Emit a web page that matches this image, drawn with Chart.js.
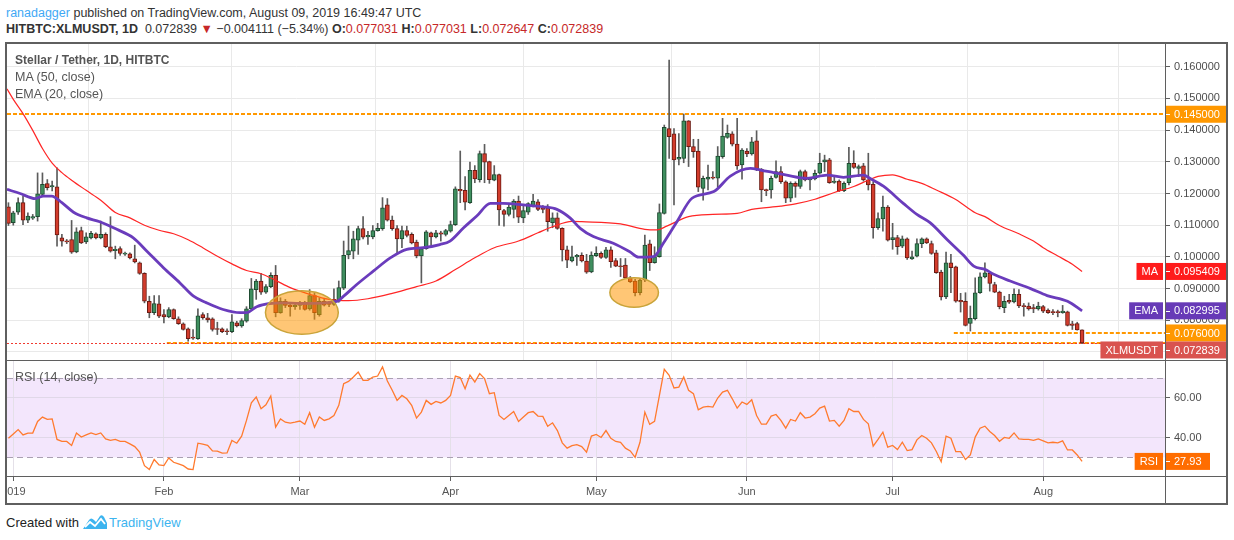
<!DOCTYPE html>
<html><head><meta charset="utf-8">
<script src="https://cdn.jsdelivr.net/npm/chart.js@4.4.1/dist/chart.umd.min.js"></script>
<style>
html,body{margin:0;padding:0;background:#fff;width:1234px;height:540px;overflow:hidden;
  font-family:'Liberation Sans',Arial,sans-serif;}
.hdr{position:absolute;left:6px;white-space:nowrap;font-size:12.5px;line-height:16px;color:#333;}
#h1{top:5px;} #h2{top:21px;}
.red{color:#c62828;}
#frame{position:absolute;left:5px;top:42px;width:1219px;height:459px;border:2px solid #5f5f5f;}
#p1{position:absolute;left:0;top:0;width:1219px;height:316px;}
#p2{position:absolute;left:0;top:316px;width:1219px;height:143px;}
.leg{position:absolute;left:15px;font-size:12.5px;line-height:16px;color:#555;white-space:nowrap;}
#footer{position:absolute;left:6px;top:514px;font-size:13px;line-height:18px;color:#222;white-space:nowrap;}
#footer svg{vertical-align:-3px;margin:0 1px 0 3px;}
</style></head>
<body>
<div class="hdr" id="h1"><span style="color:#3fa9f5">ranadagger</span> published on TradingView.com, August 09, 2019 16:49:47 UTC</div>
<div class="hdr" id="h2"><b>HITBTC:XLMUSDT, 1D</b>&nbsp; 0.072839 <span class="red">▼</span> −0.004111 (−5.34%) <b>O:</b><span class="red">0.077031</span> <b>H:</b><span class="red">0.077031</span> <b>L:</b><span class="red">0.072647</span> <b>C:</b><span class="red">0.072839</span></div>
<div id="frame">
  <div id="p1"><canvas id="c1"></canvas></div>
  <div id="p2"><canvas id="c2"></canvas></div>
</div>
<div class="leg" style="top:52px;font-weight:bold;font-size:12px;">Stellar / Tether, 1D, HITBTC</div>
<div class="leg" style="top:69px;">MA (50, close)</div>
<div class="leg" style="top:86px;">EMA (20, close)</div>
<div class="leg" style="top:369px;">RSI (14, close)</div>
<div id="footer">Created with<svg width="26" height="16" viewBox="0 0 26 16"><path d="M1 15 L7 6 Q9 3 12 6 L14 8 L18 2 Q20 0 22 3 L25 9 L25 15 Z" fill="#3cb4ef"/><path d="M3 13 L8 8 L13 12 L19 5 L23 10" stroke="#fff" stroke-width="1.8" fill="none"/></svg><span style="color:#3cb4ef">TradingView</span></div>

<script>
// ---------------- DATA ----------------
const firstDay = -1; // Dec 31, 2018 (day 0 = Jan 1, 2019)
const open = [
0.1158,0.1108,0.1141,0.1171,0.1116,0.1122,0.1127,0.1197,0.1231,0.1221,
0.1221,0.1060,0.1051,0.1055,0.1016,0.1083,0.1047,0.1060,0.1073,0.1060,
0.1071,0.1032,0.1020,0.1026,0.1009,0.1010,0.0994,0.0981,0.0948,0.0860,
0.0824,0.0852,0.0818,0.0811,0.0834,0.0805,0.0789,0.0773,0.0746,0.0742,
0.0818,0.0808,0.0805,0.0773,0.0773,0.0766,0.0764,0.0792,0.0782,0.0797,
0.0836,0.0897,0.0924,0.0889,0.0906,0.0942,0.0824,0.0860,0.0847,0.0843,
0.0847,0.0853,0.0836,0.0878,0.0818,0.0860,0.0853,0.0850,0.0860,0.0901,
0.1006,0.1018,0.1053,0.1089,0.1063,0.1063,0.1083,0.1089,0.1164,0.1116,
0.1089,0.1057,0.1083,0.1071,0.1047,0.1003,0.1026,0.1076,0.1063,0.1076,
0.1071,0.1081,0.1102,0.1213,0.1210,0.1171,0.1273,0.1244,0.1326,0.1301,
0.1242,0.1260,0.1146,0.1134,0.1150,0.1176,0.1123,0.1141,0.1162,0.1174,
0.1153,0.1155,0.1108,0.1123,0.1090,0.1022,0.0987,0.1000,0.1005,0.0987,
0.0953,0.1004,0.1011,0.0998,0.1022,0.0988,0.0971,0.0974,0.0934,0.0924,
0.0887,0.0927,0.1041,0.0982,0.1001,0.1137,0.1405,0.1388,0.1308,0.1311,
0.1429,0.1348,0.1334,0.1216,0.1245,0.1252,0.1248,0.1316,0.1377,0.1388,
0.1356,0.1290,0.1334,0.1325,0.1366,0.1276,0.1211,0.1211,0.1251,0.1269,
0.1237,0.1185,0.1232,0.1222,0.1269,0.1243,0.1246,0.1264,0.1300,0.1306,
0.1235,0.1239,0.1209,0.1234,0.1295,0.1279,0.1287,0.1243,0.1229,0.1092,
0.1120,0.1157,0.1054,0.1061,0.1034,0.1057,0.0994,0.1002,0.1042,0.1057,
0.1042,0.1013,0.0952,0.0874,0.0981,0.0969,0.0863,0.0860,0.0790,0.0805,
0.0887,0.0937,0.0948,0.0913,0.0889,0.0840,0.0863,0.0858,0.0882,0.0845,
0.0845,0.0840,0.0836,0.0843,0.0832,0.0826,0.0826,0.0824,0.0827,0.0789,
0.0790,0.077031];
const high = [
0.1171,0.1144,0.1186,0.1192,0.1139,0.1134,0.1265,0.1265,0.1244,0.1239,
0.1281,0.1071,0.1055,0.1115,0.1092,0.1094,0.1076,0.1081,0.1076,0.1113,
0.1076,0.1127,0.1034,0.1032,0.1015,0.1013,0.1037,0.0984,0.0950,0.0876,
0.0878,0.0878,0.0834,0.0840,0.0836,0.0811,0.0792,0.0776,0.0771,0.0836,
0.0824,0.0822,0.0808,0.0794,0.0776,0.0773,0.0818,0.0797,0.0805,0.0843,
0.0932,0.0929,0.0948,0.0913,0.0950,0.0973,0.0871,0.0866,0.0853,0.0855,
0.0860,0.0860,0.0897,0.0887,0.0871,0.0866,0.0860,0.0899,0.0924,0.1050,
0.1097,0.1081,0.1097,0.1127,0.1081,0.1099,0.1106,0.1187,0.1184,0.1129,
0.1099,0.1097,0.1097,0.1076,0.1053,0.1029,0.1083,0.1078,0.1084,0.1081,
0.1087,0.1113,0.1221,0.1334,0.1253,0.1299,0.1288,0.1334,0.1355,0.1302,
0.1288,0.1261,0.1150,0.1165,0.1181,0.1192,0.1162,0.1171,0.1197,0.1181,
0.1162,0.1165,0.1139,0.1139,0.1092,0.1034,0.1034,0.1008,0.1013,0.1008,
0.1016,0.1032,0.1016,0.1030,0.1032,0.0995,0.0995,0.0995,0.0938,0.0929,
0.0932,0.1069,0.1053,0.1032,0.1167,0.1416,0.1621,0.1405,0.1389,0.1451,
0.1430,0.1371,0.1371,0.1255,0.1290,0.1269,0.1348,0.1437,0.1416,0.1395,
0.1437,0.1342,0.1342,0.1377,0.1398,0.1279,0.1214,0.1255,0.1303,0.1285,
0.1240,0.1237,0.1237,0.1274,0.1274,0.1248,0.1274,0.1327,0.1321,0.1311,
0.1255,0.1243,0.1237,0.1346,0.1335,0.1290,0.1295,0.1327,0.1237,0.1139,
0.1192,0.1162,0.1106,0.1068,0.1066,0.1060,0.1018,0.1057,0.1060,0.1060,
0.1050,0.1021,0.0958,0.1015,0.1008,0.0971,0.0885,0.0887,0.0845,0.0934,
0.0950,0.0981,0.0950,0.0920,0.0892,0.0876,0.0882,0.0899,0.0897,0.0853,
0.0855,0.0850,0.0857,0.0847,0.0836,0.0834,0.0832,0.0847,0.0829,0.0797,
0.0794,0.077031];
const low = [
0.1099,0.1100,0.1134,0.1102,0.1108,0.1118,0.1113,0.1192,0.1211,0.1208,
0.1034,0.1034,0.1042,0.1011,0.1013,0.1042,0.1042,0.1057,0.1057,0.1057,
0.1029,0.1015,0.0994,0.1005,0.1005,0.0994,0.0981,0.0945,0.0855,0.0808,
0.0818,0.0808,0.0792,0.0808,0.0803,0.0787,0.0769,0.0734,0.0740,0.0740,
0.0803,0.0794,0.0766,0.0755,0.0761,0.0755,0.0761,0.0779,0.0778,0.0794,
0.0832,0.0866,0.0882,0.0885,0.0903,0.0811,0.0822,0.0840,0.0813,0.0834,
0.0834,0.0832,0.0832,0.0803,0.0813,0.0845,0.0843,0.0847,0.0857,0.0897,
0.0994,0.0994,0.1008,0.1057,0.1039,0.1057,0.1081,0.1084,0.1113,0.1084,
0.1008,0.1029,0.1063,0.1041,0.0997,0.0918,0.1024,0.1036,0.1060,0.1050,
0.1066,0.1078,0.1099,0.1171,0.1148,0.1169,0.1234,0.1236,0.1234,0.1232,
0.1240,0.1099,0.1097,0.1129,0.1123,0.1108,0.1108,0.1134,0.1158,0.1146,
0.1139,0.1081,0.1092,0.1087,0.0987,0.0966,0.0984,0.0973,0.0984,0.0948,
0.0950,0.1001,0.0995,0.0995,0.0967,0.0969,0.0938,0.0932,0.0919,0.0877,
0.0880,0.0922,0.0957,0.0980,0.0999,0.1135,0.1311,0.1164,0.1290,0.1297,
0.1285,0.1314,0.1206,0.1179,0.1211,0.1245,0.1220,0.1311,0.1374,0.1350,
0.1276,0.1245,0.1316,0.1321,0.1272,0.1174,0.1193,0.1185,0.1248,0.1232,
0.1171,0.1174,0.1188,0.1216,0.1240,0.1211,0.1243,0.1261,0.1269,0.1232,
0.1232,0.1206,0.1206,0.1227,0.1279,0.1253,0.1239,0.1211,0.1059,0.1087,
0.1081,0.1050,0.1024,0.1008,0.1029,0.0992,0.0992,0.1000,0.1029,0.1042,
0.1008,0.0948,0.0864,0.0868,0.0887,0.0857,0.0826,0.0782,0.0766,0.0801,
0.0885,0.0934,0.0892,0.0887,0.0836,0.0824,0.0853,0.0855,0.0840,0.0813,
0.0832,0.0824,0.0832,0.0824,0.0822,0.0818,0.0811,0.0822,0.0782,0.0771,
0.0769,0.072647];
const close = [
0.1106,0.1139,0.1171,0.1116,0.1129,0.1127,0.1199,0.1229,0.1218,0.1225,
0.1069,0.1050,0.1047,0.1015,0.1079,0.1044,0.1063,0.1074,0.1060,0.1071,
0.1032,0.1018,0.1024,0.1011,0.1011,0.0997,0.0984,0.0948,0.0860,0.0824,
0.0853,0.0813,0.0811,0.0834,0.0805,0.0789,0.0771,0.0742,0.0744,0.0814,
0.0808,0.0801,0.0771,0.0771,0.0764,0.0764,0.0795,0.0782,0.0799,0.0836,
0.0899,0.0924,0.0889,0.0906,0.0942,0.0824,0.0860,0.0847,0.0843,0.0847,
0.0849,0.0834,0.0878,0.0824,0.0860,0.0848,0.0850,0.0866,0.0903,0.1005,
0.1020,0.1057,0.1089,0.1062,0.1068,0.1083,0.1090,0.1155,0.1116,0.1089,
0.1057,0.1083,0.1068,0.1044,0.1003,0.1026,0.1079,0.1063,0.1076,0.1072,
0.1083,0.1102,0.1215,0.1208,0.1173,0.1273,0.1246,0.1326,0.1299,0.1244,
0.1260,0.1148,0.1134,0.1157,0.1176,0.1125,0.1146,0.1168,0.1176,0.1150,
0.1150,0.1111,0.1123,0.1090,0.1022,0.0990,0.1000,0.1005,0.0987,0.0952,
0.1006,0.1011,0.0998,0.1022,0.0985,0.0971,0.0969,0.0934,0.0922,0.0887,
0.0927,0.1037,0.0982,0.1001,0.1140,0.1409,0.1379,0.1306,0.1314,0.1429,
0.1348,0.1332,0.1220,0.1248,0.1252,0.1248,0.1318,0.1381,0.1390,0.1356,
0.1287,0.1337,0.1325,0.1363,0.1276,0.1211,0.1209,0.1248,0.1269,0.1237,
0.1185,0.1232,0.1222,0.1269,0.1243,0.1247,0.1264,0.1295,0.1306,0.1234,
0.1239,0.1209,0.1232,0.1295,0.1282,0.1285,0.1243,0.1227,0.1092,0.1121,
0.1157,0.1053,0.1061,0.1032,0.1057,0.0997,0.1000,0.1042,0.1057,0.1044,
0.1011,0.0950,0.0874,0.0981,0.0966,0.0860,0.0858,0.0784,0.0806,0.0887,
0.0937,0.0950,0.0916,0.0889,0.0843,0.0860,0.0857,0.0882,0.0845,0.0843,
0.0836,0.0836,0.0845,0.0829,0.0824,0.0824,0.0824,0.0829,0.0784,0.0784,
0.07695,0.072839];
const rsi = [
39.6,41.8,44.0,41.3,42.2,42.2,48.1,50.3,49.1,49.4,
39.0,38.0,38.0,36.0,42.2,40.2,41.3,42.3,41.5,42.3,
39.3,38.5,39.0,38.0,38.0,36.8,35.4,32.6,25.8,23.8,
28.9,26.2,25.8,29.7,27.5,26.7,25.8,24.1,23.8,37.1,
36.6,36.0,33.2,33.1,32.1,32.2,38.5,37.1,40.7,48.6,
57.5,60.4,54.5,56.5,60.9,45.2,49.4,47.7,47.2,47.7,
48.3,46.7,52.5,45.2,50.3,48.6,49.4,51.1,56.2,67.1,
68.3,70.5,73.0,68.8,68.8,70.5,71.0,75.6,68.5,63.8,
58.7,61.2,59.5,56.2,49.8,52.8,58.7,56.7,58.2,57.4,
58.7,61.2,71.0,70.2,64.6,71.4,68.0,72.2,69.7,62.1,
62.6,51.1,49.1,51.1,53.1,48.1,50.3,52.5,53.1,50.8,
50.6,45.7,47.4,43.5,37.3,34.6,35.9,36.4,35.4,32.6,
40.7,41.5,40.0,43.5,39.6,38.0,37.6,34.6,33.2,30.0,
37.6,52.8,46.6,48.1,61.2,74.4,71.4,65.0,65.4,70.5,
63.8,62.1,54.0,55.3,55.7,55.3,59.9,62.9,63.8,59.5,
54.8,57.9,56.7,59.0,51.1,46.7,46.7,50.8,51.6,48.6,
44.7,49.1,48.3,52.5,49.8,50.3,52.0,54.8,55.8,48.3,
48.6,45.7,48.6,54.5,53.1,53.1,49.1,46.9,35.6,39.0,
42.7,35.1,36.0,33.9,37.6,33.4,33.9,38.8,41.0,39.6,
37.3,32.9,27.8,40.7,39.6,32.9,32.9,28.9,31.2,40.2,
44.7,45.7,43.0,41.0,38.1,40.0,39.6,42.3,39.3,39.0,
39.0,38.5,39.3,38.3,37.3,37.6,37.3,38.3,33.7,33.7,
31.2,27.93];
// MA(50) (day, value)
const maDays = [-1.3,0,2,4,6,8,10,12,15,18,21,24,27,30,33,36,39,42,45,48,51,54,57,61,65,69,73,78,83,87,91,95,99,104,108,111,115,117,125,130,132.5,134.5,139,144,149,152,158,161,165,169,173,176,178,181,184,187,190,194,198,200,203,207,210,212,215,218,220];
const maVals = [0.1530,0.1497,0.1452,0.1399,0.1342,0.1296,0.1266,0.1242,0.1210,0.1179,0.1140,0.1123,0.1100,0.1084,0.1073,0.1054,0.1029,0.1002,0.0978,0.0957,0.0947,0.0926,0.0903,0.0882,0.0866,0.0862,0.0868,0.0885,0.0906,0.0924,0.0960,0.0997,0.1029,0.1050,0.1076,0.1095,0.1112,0.1111,0.1104,0.1087,0.1085,0.1097,0.1127,0.1134,0.1137,0.1150,0.1160,0.1167,0.1182,0.1203,0.1222,0.1242,0.1254,0.1259,0.1245,0.1232,0.1211,0.1181,0.1139,0.1127,0.1099,0.1073,0.1050,0.1029,0.1003,0.0977,0.095409];
// EMA(20) (day, value)
const emaDays = [-1.3,1.4,4.5,6.2,7.9,10,12.4,15.1,17.8,21.3,24.7,27.5,30.9,34.3,37.1,39.8,43.2,46.7,48,50.1,52.8,55.6,59,66.6,68,70.7,74.1,77.6,81,84.4,87.8,89.9,92.7,95.4,98.2,100.9,105,109.1,111.9,114.6,116.7,119.4,123.5,126.9,128.7,131.8,133.8,136.6,139.7,144.2,147.6,151.7,153.8,156.5,159.2,163.4,167.5,170.9,175,176.4,179.1,183.2,186,188.7,192.2,195.6,197.7,200.1,201.8,205.2,209.4,212.8,217,220];
const emaVals = [0.1213,0.1200,0.1184,0.1192,0.1192,0.1171,0.1141,0.1123,0.1111,0.1087,0.1060,0.1018,0.0966,0.0918,0.0876,0.0855,0.0834,0.0824,0.0824,0.0843,0.0853,0.0855,0.0853,0.0860,0.0876,0.0913,0.0955,0.0997,0.1024,0.1029,0.1039,0.1050,0.1092,0.1129,0.1169,0.1169,0.1164,0.1158,0.1150,0.1123,0.1090,0.1064,0.1043,0.1016,0.0999,0.1001,0.1043,0.1111,0.1185,0.1206,0.1255,0.1279,0.1274,0.1266,0.1258,0.1248,0.1258,0.1251,0.1258,0.1247,0.1223,0.1169,0.1134,0.1108,0.1055,0.1005,0.0971,0.0960,0.0945,0.0924,0.0900,0.0878,0.0860,0.082995];
// axis ticks
const monthDays = [0,31,59,90,120,151,181,212];
const monthLabels = ['2019','Feb','Mar','Apr','May','Jun','Jul','Aug'];
const priceTicks = [0.07,0.08,0.09,0.10,0.11,0.12,0.13,0.14,0.15,0.16];
const rsiTicks = [40,60];
// drawn levels / annotations
const levelValues = [0.145, 0.076, 0.0728];
const levelFromDay = [-1.3, 193.6, 31.6];
const lastPrice = 0.072839;
const priceMarks = [
  {value:0.145, text:'0.145000', color:'#ff9800', tag:''},
  {value:0.095409, text:'0.095409', color:'#ff1c1c', tag:'MA'},
  {value:0.082995, text:'0.082995', color:'#673ab7', tag:'EMA'},
  {value:0.076, text:'0.076000', color:'#ff9800', tag:''},
  {value:0.072839, text:'0.072839', color:'#d9534f', tag:'XLMUSDT'}
];
const ellipses = [
  {day:59.4, price:0.08246, halfDays:7.5, halfPrice:0.00688},
  {day:127.8, price:0.08877, halfDays:5.0, halfPrice:0.00467}
];
const rsiBand = [30,70];
const rsiLast = 27.93;

// ---------------- CHARTS ----------------
const FONT = "'Liberation Sans',Arial,sans-serif";
const xMin = -1.297, xMax = 237.07;
const days = open.map((_, i) => firstDay + i);
const up = close.map((c, i) => c >= open[i]);
const GRID = '#e9e9e9';
const AXIS_W = 61;

function drawTagBox(ctx, right, cy, text, color){
  ctx.font = '11px ' + FONT;
  const w = ctx.measureText(text).width + 10;
  ctx.fillStyle = color;
  ctx.fillRect(right - 2 - w, cy - 8.5, w, 17);
  ctx.fillStyle = '#fff';
  ctx.textAlign = 'center'; ctx.textBaseline = 'middle';
  ctx.fillText(text, right - 2 - w/2, cy + 0.5);
}
function drawValueBox(ctx, left, width, cy, text, color){
  ctx.fillStyle = color;
  ctx.fillRect(left + 1, cy - 8.5, width, 17);
  ctx.fillStyle = '#fff';
  ctx.fillRect(left + 1, Math.round(cy), 4, 1);
  ctx.font = '11px ' + FONT;
  ctx.textAlign = 'left'; ctx.textBaseline = 'middle';
  ctx.fillText(text, left + 9, cy + 0.5);
}

const pricePlugin = {
  id: 'priceExtras',
  beforeDatasetsDraw(chart){
    const {ctx, chartArea:a, scales:{x, y}} = chart;
    ctx.save();
    ctx.strokeStyle = '#ff9800'; ctx.lineWidth = 2; ctx.setLineDash([4,2]);
    levelValues.forEach((v, i) => {
      const py = Math.round(y.getPixelForValue(v));
      ctx.beginPath();
      ctx.moveTo(Math.max(a.left, x.getPixelForValue(levelFromDay[i])), py);
      ctx.lineTo(a.right, py); ctx.stroke();
    });
    ctx.restore();
  },
  afterDatasetsDraw(chart){
    const {ctx, chartArea:a, scales:{x, y}} = chart;
    ctx.save();
    const py = Math.round(y.getPixelForValue(lastPrice)) + 0.5;
    ctx.strokeStyle = '#f0392f'; ctx.lineWidth = 1; ctx.setLineDash([2,2]);
    ctx.beginPath(); ctx.moveTo(a.left, py); ctx.lineTo(a.right, py); ctx.stroke();
    ctx.setLineDash([]);
    ellipses.forEach(e => {
      const cx = x.getPixelForValue(e.day), cy = y.getPixelForValue(e.price);
      const rx = x.getPixelForValue(e.day + e.halfDays) - cx;
      const ry = cy - y.getPixelForValue(e.price + e.halfPrice);
      ctx.beginPath(); ctx.ellipse(cx, cy, rx, ry, 0, 0, Math.PI*2);
      ctx.fillStyle = 'rgba(255,150,0,0.54)'; ctx.fill();
      ctx.strokeStyle = '#c9a43a'; ctx.lineWidth = 1.5; ctx.stroke();
    });
    ctx.restore();
  },
  afterDraw(chart){
    const {ctx, chartArea:a, scales:{y}} = chart;
    ctx.save();
    ctx.fillStyle = '#5f5f5f';
    ctx.fillRect(Math.round(a.right), 0, 1, chart.height);
    const marks = priceMarks.map(m => ({...m, cy: y.getPixelForValue(m.value)})).sort((p, q) => p.cy - q.cy);
    for (let i = 1; i < marks.length; i++) {
      if (marks[i].cy < marks[i-1].cy + 17) marks[i].cy = marks[i-1].cy + 17;
    }
    marks.forEach(m => {
      drawValueBox(ctx, Math.round(a.right), chart.width - Math.round(a.right) - 1, m.cy, m.text, m.color);
      if (m.tag) drawTagBox(ctx, Math.round(a.right), m.cy, m.tag, m.color);
    });
    ctx.restore();
  }
};

const rsiPlugin = {
  id: 'rsiExtras',
  beforeDraw(chart){
    const {ctx, chartArea:a, scales:{y}} = chart;
    const y1 = y.getPixelForValue(rsiBand[1]), y0 = y.getPixelForValue(rsiBand[0]);
    ctx.save(); ctx.fillStyle = '#f3e6fc';
    ctx.fillRect(a.left, y1, a.right - a.left, y0 - y1);
    ctx.restore();
  },
  beforeDatasetsDraw(chart){
    const {ctx, chartArea:a, scales:{y}} = chart;
    ctx.save(); ctx.strokeStyle = '#aaa0b2'; ctx.lineWidth = 1; ctx.setLineDash([6,4]);
    rsiBand.forEach(v => {
      const py = Math.round(y.getPixelForValue(v)) + 0.5;
      ctx.beginPath(); ctx.moveTo(a.left, py); ctx.lineTo(a.right, py); ctx.stroke();
    });
    ctx.restore();
  },
  afterDraw(chart){
    const {ctx, chartArea:a, scales:{y}} = chart;
    ctx.save();
    ctx.fillStyle = '#5f5f5f';
    ctx.fillRect(0, 0, chart.width, 1);
    ctx.fillRect(0, Math.round(a.bottom), chart.width, 1);
    ctx.fillRect(Math.round(a.right), 0, 1, chart.height);
    const cy = y.getPixelForValue(rsiLast);
    drawValueBox(ctx, Math.round(a.right), 44, cy, rsiLast.toFixed(2), '#ff6d00');
    drawTagBox(ctx, Math.round(a.right), cy, 'RSI', '#ff6d00');
    ctx.restore();
  }
};

const commonX = (showLabels) => ({
  type: 'linear', min: xMin, max: xMax, offset: false,
  afterBuildTicks: s => { s.ticks = monthDays.map(v => ({value: v})); },
  afterFit: s => { s.height = showLabels ? 27 : 0; s.paddingLeft = 0; s.paddingRight = 0; },
  ticks: showLabels ? {
    display: true, autoSkip: false, maxRotation: 0, minRotation: 0, padding: 4,
    color: '#555', font: {family: FONT, size: 11},
    callback: v => monthLabels[monthDays.indexOf(v)]
  } : {display: false},
  grid: showLabels ? {color: '#e4e0e8', tickColor: '#5f5f5f', tickLength: 5} : {color: GRID, drawTicks: false},
  border: {display: false}
});

new Chart(document.getElementById('c1'), {
  type: 'bar',
  data: { datasets: [
    {type:'line', label:'EMA (20, close)', data: emaDays.map((d, i) => ({x: d, y: emaVals[i]})),
     borderColor:'#6a3cbc', borderWidth:2.8, pointRadius:0, cubicInterpolationMode:'monotone', order:0},
    {type:'line', label:'MA (50, close)', data: maDays.map((d, i) => ({x: d, y: maVals[i]})),
     borderColor:'#ff2626', borderWidth:1.2, pointRadius:0, cubicInterpolationMode:'monotone', order:1},
    {type:'bar', label:'body', data: days.map((d, i) => ({x: d, y: [open[i], close[i]]})),
     backgroundColor: up.map(u => u ? '#3f8f5f' : '#d23c2c'),
     borderColor: up.map(u => u ? '#1d4a30' : '#6b1a12'),
     borderWidth: 1, borderSkipped: false, barThickness: 4, grouped: false, minBarLength: 1, order: 2},
    {type:'bar', label:'wick', data: days.map((d, i) => ({x: d, y: [low[i], high[i]]})),
     backgroundColor: '#5c5c5c', barThickness: 1, grouped: false, order: 3}
  ]},
  options: {
    responsive: true, maintainAspectRatio: false, animation: false, events: [],
    layout: {padding: 0},
    plugins: {legend: {display: false}, tooltip: {enabled: false}},
    scales: {
      x: commonX(false),
      y: {type: 'linear', position: 'right', min: 0.067476, max: 0.167161,
          afterBuildTicks: s => { s.ticks = priceTicks.map(v => ({value: v})); },
          afterFit: s => { s.width = AXIS_W; s.paddingTop = 0; s.paddingBottom = 0; },
          ticks: {color: '#4d4d4d', font: {family: FONT, size: 11}, padding: 4, callback: v => v.toFixed(6)},
          grid: {color: GRID, tickColor: '#5f5f5f', tickLength: 5},
          border: {display: false}}
    }
  },
  plugins: [pricePlugin]
});

new Chart(document.getElementById('c2'), {
  type: 'line',
  data: { datasets: [
    {label:'RSI (14, close)', data: days.map((d, i) => ({x: d, y: rsi[i]})),
     borderColor:'#ff7a2e', borderWidth:1.3, pointRadius:0, tension:0}
  ]},
  options: {
    responsive: true, maintainAspectRatio: false, animation: false, events: [],
    layout: {padding: 0},
    plugins: {legend: {display: false}, tooltip: {enabled: false}},
    scales: {
      x: commonX(true),
      y: {type: 'linear', position: 'right', min: 20.57, max: 79.08,
          afterBuildTicks: s => { s.ticks = rsiTicks.map(v => ({value: v})); },
          afterFit: s => { s.width = AXIS_W; s.paddingTop = 0; s.paddingBottom = 0; },
          ticks: {color: '#4d4d4d', font: {family: FONT, size: 11}, padding: 4, callback: v => v.toFixed(2)},
          grid: {color: '#e0d8e8', tickColor: '#5f5f5f', tickLength: 5},
          border: {display: false}}
    }
  },
  plugins: [rsiPlugin]
});
</script>
</body></html>
